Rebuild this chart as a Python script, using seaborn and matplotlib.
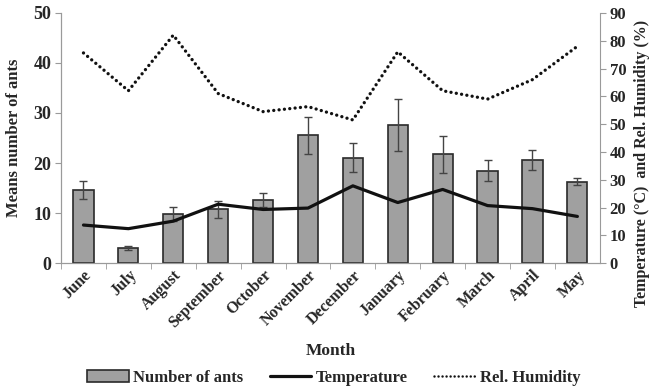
import matplotlib
matplotlib.use('Agg')
import matplotlib.pyplot as plt
import seaborn as sns
import numpy as np
import pandas as pd
from matplotlib.patches import Patch
from matplotlib.lines import Line2D

months = ['June', 'July', 'August', 'September', 'October', 'November',
          'December', 'January', 'February', 'March', 'April', 'May']
ants = [14.7, 3.1, 9.8, 10.8, 12.7, 25.6, 21.1, 27.6, 21.8, 18.5, 20.6, 16.3]
ants_err = [1.8, 0.4, 1.4, 1.7, 1.4, 3.7, 2.9, 5.1, 3.7, 2.1, 2.0, 0.7]
temperature = [13.7, 12.4, 15.1, 21.2, 19.3, 19.8, 27.8, 21.8, 26.5, 20.7, 19.6, 16.8]
humidity = [75.6, 62.0, 82.0, 61.0, 54.5, 56.3, 51.5, 76.0, 62.0, 59.0, 66.0, 78.0]

df = pd.DataFrame({'Month': months, 'Ants': ants, 'Err': ants_err,
                   'Temp': temperature, 'RH': humidity})
df['pos'] = np.arange(len(df))

sns.set_style('white')
plt.rcParams['font.family'] = ['Liberation Serif', 'DejaVu Serif']
plt.rcParams['font.weight'] = 'bold'

fig = plt.figure(figsize=(6.52, 3.91), dpi=100)
ax = fig.add_axes([0.0936, 0.327, 0.8264, 0.640])

sns.barplot(x='Month', y='Ants', data=df, ax=ax, color='#a0a0a0',
            edgecolor='#2a2a2a', linewidth=1.2, width=0.45, saturation=1)
ax.errorbar(df['pos'], df['Ants'], yerr=df['Err'], fmt='none',
            ecolor='#444444', elinewidth=1, capsize=3, capthick=1)

dots = (0, (0.01, 1.6))
ax2 = ax.twinx()
sns.lineplot(x='pos', y='Temp', data=df, ax=ax2, color='#111111', linewidth=2.3)
sns.lineplot(x='pos', y='RH', data=df, ax=ax2, color='#111111', linewidth=2.4,
             linestyle=dots, dash_capstyle='round')

ax.set_ylim(0, 50)
ax2.set_ylim(0, 90)
ax.set_xlim(-0.5, len(months) - 0.5)
ax.set_yticks(range(0, 51, 10))
ax2.set_yticks(range(0, 91, 10))

for a in (ax, ax2):
    for s in a.spines.values():
        s.set_color('#9a9a9a')
    a.spines['top'].set_visible(False)
ax.spines['right'].set_visible(False)

ax.tick_params(axis='y', labelsize=13, length=4, color='#9a9a9a', left=True, pad=3)
ax2.tick_params(axis='y', labelsize=12, length=4, color='#9a9a9a', right=True, pad=3)
ax.tick_params(axis='x', labelsize=11.5, length=0, pad=3)
ax.set_xticks(np.arange(len(months)) - 0.5, minor=True)
ax.tick_params(axis='x', which='minor', length=4, color='#9a9a9a', bottom=True)
ax.set_xticklabels(months, rotation=45, ha='right', rotation_mode='anchor')

ax.set_xlabel('Month', fontsize=12.5, fontweight='bold', labelpad=9)
ax.set_ylabel('Means number of ants', fontsize=12, fontweight='bold', labelpad=8)
ax2.set_ylabel('Temperature (\u00b0C)  and Rel. Humidity (%)', fontsize=11.5,
               fontweight='bold')
ax2.yaxis.set_label_coords(1.064, 0.40)

handles = [Patch(facecolor='#a0a0a0', edgecolor='#2a2a2a', linewidth=1.2),
           Line2D([], [], color='#111111', linewidth=2.3),
           Line2D([], [], color='#111111', linewidth=1.8, linestyle=(0, (0.01, 1.6)),
                  dash_capstyle='round')]
fig.legend(handles, ['Number of ants', 'Temperature', 'Rel. Humidity'],
           loc='center', bbox_to_anchor=(0.512, 0.033), ncol=3, frameon=False,
           fontsize=12, handlelength=2.5, handletextpad=0.25, columnspacing=1.6)

fig.savefig('out.png', dpi=100)
